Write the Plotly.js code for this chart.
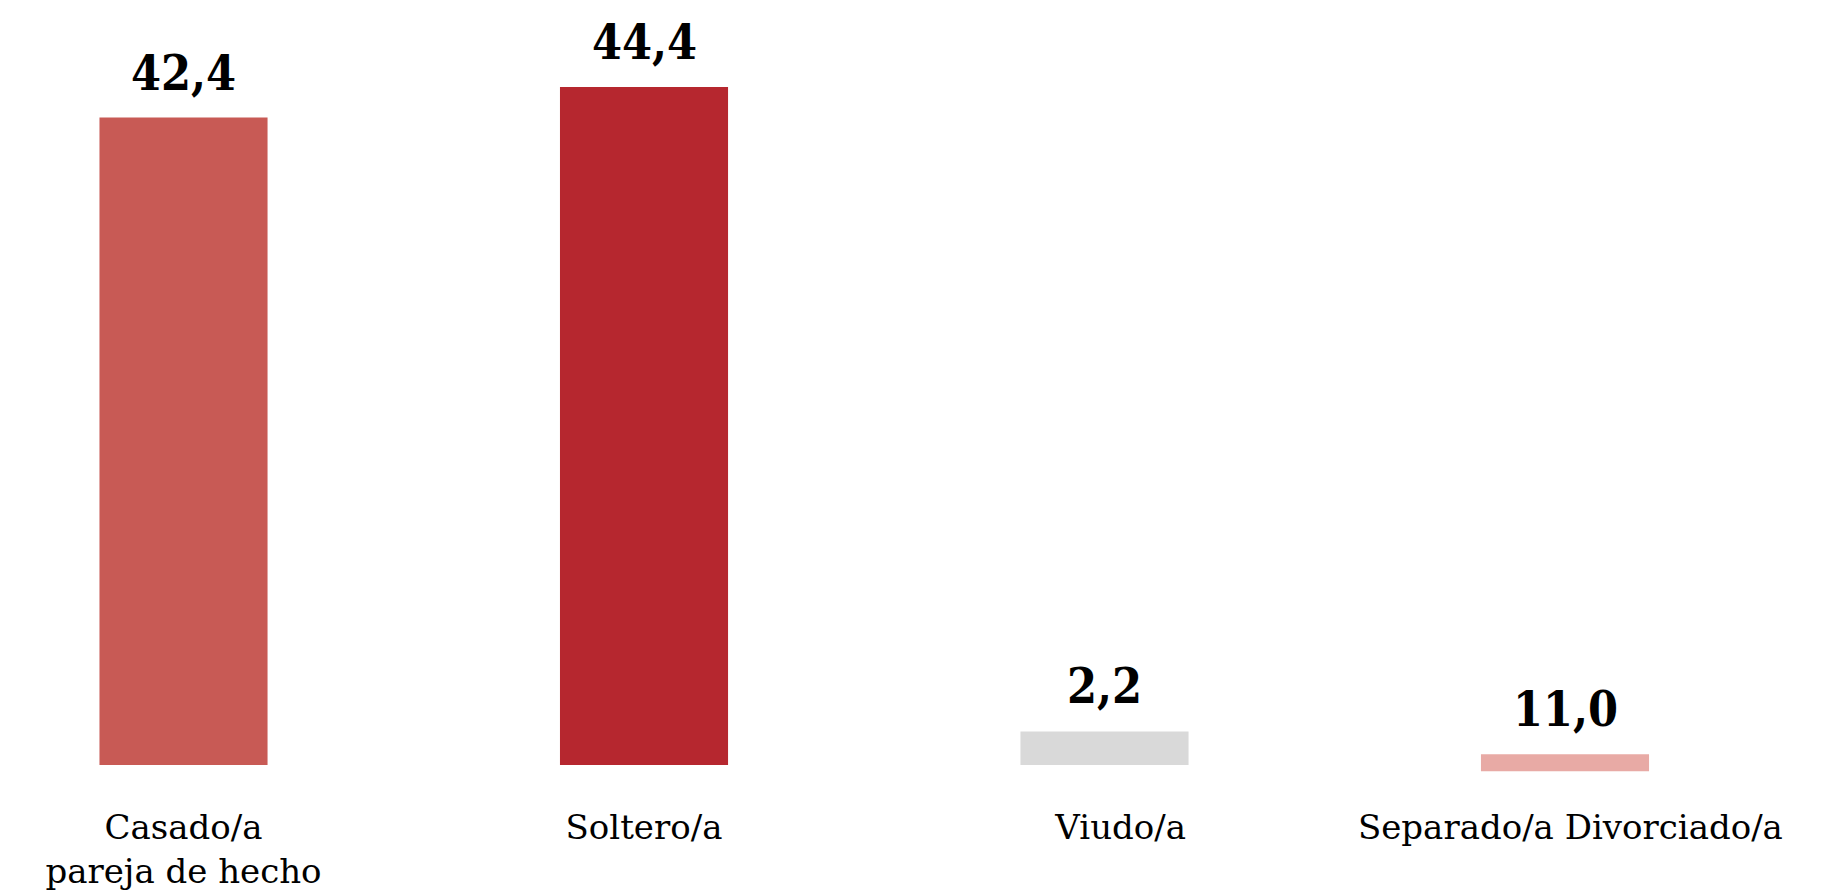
<!DOCTYPE html>
<html>
<head>
<meta charset="utf-8">
<script src="https://cdn.plot.ly/plotly-3.0.1.min.js"></script>
<style>
  html, body { margin: 0; padding: 0; background: #ffffff; }
  #chart { width: 1839px; height: 890px; }
</style>
</head>
<body>
<div id="chart"></div>
<script>
// Categories (x axis tick labels)
var categories = ["Casado/a<br>pareja de hecho", "Soltero/a", "\u00a0\u00a0\u00a0Viudo/a", "\u00a0Separado/a Divorciado/a"];
// Bar heights as drawn in the reference
var values = [42.4, 44.4, 2.2, 1.1];
// Bar bases as drawn in the reference (last bar sits slightly below the baseline)
var bases = [0, 0, 0, -0.4];
// Value labels as printed above the bars
var valueLabels = ["42,4", "44,4", "2,2", "11,0"];
// Bar colours
var barColors = ["#C85A55", "#B6272F", "#D9D9D9", "#E8AAA5"];

var slab = "Roboto Slab, DejaVu Serif, serif";
var slabBold = "Roboto Slab, DejaVu Serif Condensed, DejaVu Serif, serif";

var trace = {
  type: "bar",
  x: categories,
  y: values,
  base: bases,
  marker: { color: barColors, line: { width: 0 } },
  width: 0.365,
  hoverinfo: "skip"
};

var annotations = categories.map(function (c, i) {
  return {
    x: c,
    y: bases[i] + values[i],
    xref: "x",
    yref: "y",
    text: "<b>" + valueLabels[i] + "</b>",
    showarrow: false,
    yanchor: "bottom",
    xanchor: "center",
    yshift: 15,
    font: { family: slabBold, size: 48, color: "#000000" }
  };
});

var layout = {
  width: 1839,
  height: 890,
  margin: { l: 0, r: 0, t: 0, b: 90 },
  paper_bgcolor: "#ffffff",
  plot_bgcolor: "#ffffff",
  showlegend: false,
  xaxis: {
    type: "category",
    range: [-0.3985, 3.595],
    showgrid: false,
    zeroline: false,
    showline: false,
    ticks: "",
    ticklabelstandoff: 4,
    tickfont: { family: slab, size: 34, color: "#000000" },
    fixedrange: true
  },
  yaxis: {
    range: [-2.29, 50.1],
    visible: false,
    showgrid: false,
    zeroline: false,
    fixedrange: true
  },
  annotations: annotations
};

Plotly.newPlot("chart", [trace], layout, { displayModeBar: false, staticPlot: true });
</script>
</body>
</html>
